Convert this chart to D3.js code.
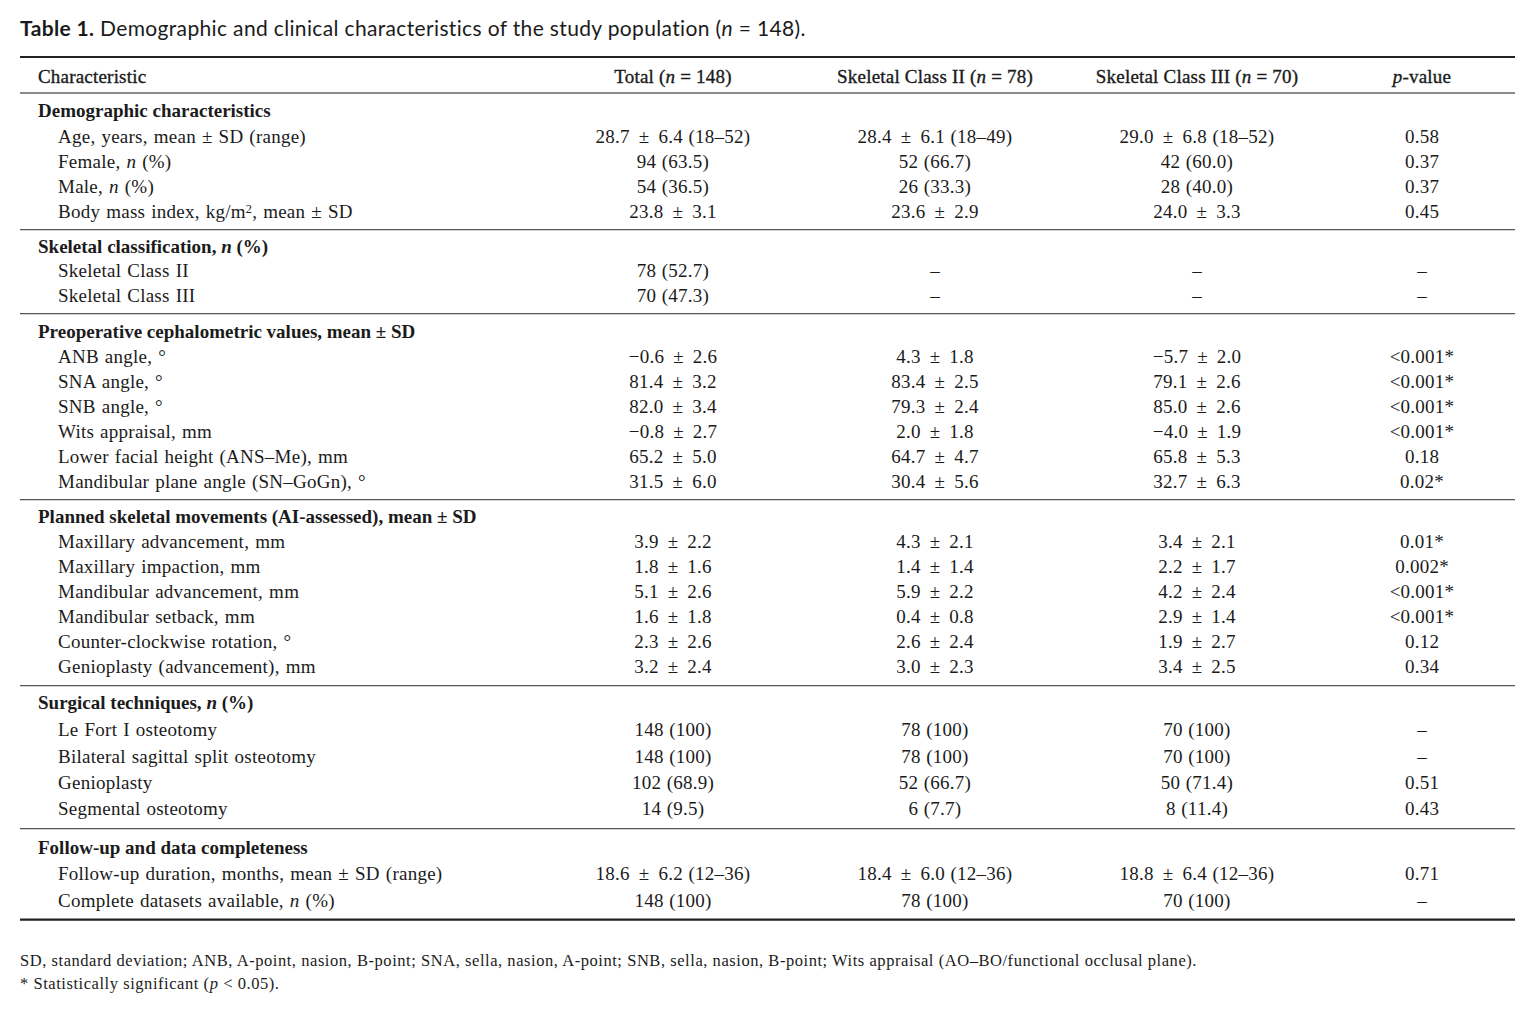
<!DOCTYPE html>
<html>
<head>
<meta charset="utf-8">
<script src="https://cdn.jsdelivr.net/npm/d3@7.9.0/dist/d3.min.js"></script>
<style>
  body { margin: 0; background: #fff; }
  svg { display: block; }
</style>
</head>
<body>
<div id="chart"></div>
<script>
// column headers (first is the label column)
const columns = ['Total (<i>n</i> = 148)', 'Skeletal Class II (<i>n</i> = 78)', 'Skeletal Class III (<i>n</i> = 70)', '<i>p</i>-value'];

const sections = [
  'Demographic characteristics',
  'Skeletal classification, <i>n</i> (%)',
  'Preoperative cephalometric values, mean ± SD',
  'Planned skeletal movements (AI-assessed), mean ± SD',
  'Surgical techniques, <i>n</i> (%)',
  'Follow-up and data completeness',
];

const rowLabels = [
  ['Age, years, mean ± SD (range)', 'Female, <i>n</i> (%)', 'Male, <i>n</i> (%)', 'Body mass index, kg/m<sup>2</sup>, mean ± SD'],
  ['Skeletal Class II', 'Skeletal Class III'],
  ['ANB angle, °', 'SNA angle, °', 'SNB angle, °', 'Wits appraisal, mm', 'Lower facial height (ANS–Me), mm', 'Mandibular plane angle (SN–GoGn), °'],
  ['Maxillary advancement, mm', 'Maxillary impaction, mm', 'Mandibular advancement, mm', 'Mandibular setback, mm', 'Counter-clockwise rotation, °', 'Genioplasty (advancement), mm'],
  ['Le Fort I osteotomy', 'Bilateral sagittal split osteotomy', 'Genioplasty', 'Segmental osteotomy'],
  ['Follow-up duration, months, mean ± SD (range)', 'Complete datasets available, <i>n</i> (%)'],
];

const totalVals = [
  ['28.7 ± 6.4 (18–52)', '94 (63.5)', '54 (36.5)', '23.8 ± 3.1'],
  ['78 (52.7)', '70 (47.3)'],
  ['−0.6 ± 2.6', '81.4 ± 3.2', '82.0 ± 3.4', '−0.8 ± 2.7', '65.2 ± 5.0', '31.5 ± 6.0'],
  ['3.9 ± 2.2', '1.8 ± 1.6', '5.1 ± 2.6', '1.6 ± 1.8', '2.3 ± 2.6', '3.2 ± 2.4'],
  ['148 (100)', '148 (100)', '102 (68.9)', '14 (9.5)'],
  ['18.6 ± 6.2 (12–36)', '148 (100)'],
];

const class2Vals = [
  ['28.4 ± 6.1 (18–49)', '52 (66.7)', '26 (33.3)', '23.6 ± 2.9'],
  ['–', '–'],
  ['4.3 ± 1.8', '83.4 ± 2.5', '79.3 ± 2.4', '2.0 ± 1.8', '64.7 ± 4.7', '30.4 ± 5.6'],
  ['4.3 ± 2.1', '1.4 ± 1.4', '5.9 ± 2.2', '0.4 ± 0.8', '2.6 ± 2.4', '3.0 ± 2.3'],
  ['78 (100)', '78 (100)', '52 (66.7)', '6 (7.7)'],
  ['18.4 ± 6.0 (12–36)', '78 (100)'],
];

const class3Vals = [
  ['29.0 ± 6.8 (18–52)', '42 (60.0)', '28 (40.0)', '24.0 ± 3.3'],
  ['–', '–'],
  ['−5.7 ± 2.0', '79.1 ± 2.6', '85.0 ± 2.6', '−4.0 ± 1.9', '65.8 ± 5.3', '32.7 ± 6.3'],
  ['3.4 ± 2.1', '2.2 ± 1.7', '4.2 ± 2.4', '2.9 ± 1.4', '1.9 ± 2.7', '3.4 ± 2.5'],
  ['70 (100)', '70 (100)', '50 (71.4)', '8 (11.4)'],
  ['18.8 ± 6.4 (12–36)', '70 (100)'],
];

const pVals = [
  ['0.58', '0.37', '0.37', '0.45'],
  ['–', '–'],
  ['<0.001*', '<0.001*', '<0.001*', '<0.001*', '0.18', '0.02*'],
  ['0.01*', '0.002*', '<0.001*', '<0.001*', '0.12', '0.34'],
  ['–', '–', '0.51', '0.43'],
  ['0.71', '–'],
];

const footnotes = [
  'SD, standard deviation; ANB, A-point, nasion, B-point; SNA, sella, nasion, A-point; SNB, sella, nasion, B-point; Wits appraisal (AO–BO/functional occlusal plane).',
  '* Statistically significant (<i>p</i> < 0.05).',
];

// ---- layout ----
const width = 1536, height = 1024;
const left = 20, right = 1515;
const serif = '"Liberation Serif", "DejaVu Serif", serif';
const ink = '#1b1b1b';

const valueCols = [totalVals, class2Vals, class3Vals, pVals];
const xCol = d3.scaleOrdinal().domain(d3.range(4)).range([673, 935, 1197, 1422]);
// vertical rhythm per section: gap above heading, heading->first row, row step, last row->rule
const secGap = [17, 17, 18, 17, 17, 19];
const firstGap = [26, 24, 25, 25, 27, 26];
const rowStep = [25, 25, 25, 25, 26.3, 27];
const ruleGap = [18.7, 18, 18, 19, 20, 19];

// flatten into rows with computed y positions
let y = 93;
const rules = [];
const lines = [];
sections.forEach((sec, si) => {
  y += secGap[si];
  lines.push({ kind: 'section', label: sec, y });
  y += firstGap[si];
  rowLabels[si].forEach((lab, ri) => {
    lines.push({ kind: 'row', label: lab, y, values: valueCols.map(c => c[si][ri]) });
    if (ri < rowLabels[si].length - 1) y += rowStep[si];
  });
  y += ruleGap[si];
  rules.push(y);
});

const svg = d3.select('#chart').append('svg')
  .attr('width', width).attr('height', height)
  .attr('viewBox', `0 0 ${width} ${height}`);

// put markup like <i>n</i> and <sup>2</sup> into tspans
function rich(sel, str) {
  const parts = str.split(/(<i>.*?<\/i>|<sup>.*?<\/sup>)/).filter(s => s.length);
  parts.forEach(p => {
    if (p.startsWith('<i>')) {
      sel.append('tspan').attr('font-style', 'italic').text(p.slice(3, -4));
    } else if (p.startsWith('<sup>')) {
      sel.append('tspan').attr('font-size', '0.65em').attr('baseline-shift', '45%').text(p.slice(5, -6));
    } else {
      sel.append('tspan').text(p);
    }
  });
  return sel;
}

// value cells: a little extra air around the ± sign, as in the typeset table
function valueText(sel, str) {
  const parts = str.split(' ± ');
  sel.append('tspan').text(parts[0]);
  if (parts.length > 1) {
    sel.append('tspan').attr('dx', 3.5).text(' ±');
    sel.append('tspan').attr('dx', 3.5).text(' ' + parts[1]);
  }
}

// title
const title = svg.append('text')
  .attr('x', left).attr('y', 29).attr('dy', '0.35em')
  .attr('font-family', 'Lato, "Open Sans", sans-serif')
  .attr('font-size', 21).attr('letter-spacing', 0.35).attr('fill', ink);
title.append('tspan').attr('font-weight', 'bold').text('Table 1.');
rich(title, ' Demographic and clinical characteristics of the study population (<i>n</i> = 148).');

// horizontal rules
svg.append('line').attr('x1', left).attr('x2', right).attr('y1', 57).attr('y2', 57)
  .attr('stroke', '#222').attr('stroke-width', 2.2);
svg.append('line').attr('x1', left).attr('x2', right).attr('y1', 93).attr('y2', 93)
  .attr('stroke', '#666').attr('stroke-width', 1.6);
svg.selectAll('line.sep')
  .data(rules)
  .join('line')
  .attr('class', 'sep')
  .attr('x1', left).attr('x2', right)
  .attr('y1', d => d).attr('y2', d => d)
  .attr('stroke', (d, i) => i === rules.length - 1 ? '#222' : '#555')
  .attr('stroke-width', (d, i) => i === rules.length - 1 ? 2.2 : 1.3);

// header
const head = svg.append('g').attr('font-family', serif).attr('font-size', 19)
  .attr('letter-spacing', 0.2)
  .attr('fill', ink).attr('stroke', ink).attr('stroke-width', 0.35);
rich(head.append('text').attr('x', 38).attr('y', 76).attr('dy', '0.35em'), 'Characteristic');
columns.forEach((c, i) => {
  rich(head.append('text').attr('x', xCol(i)).attr('y', 76).attr('dy', '0.35em')
    .attr('text-anchor', 'middle'), c);
});

// body
const body = svg.append('g').attr('font-family', serif).attr('font-size', 19).attr('fill', ink);

body.selectAll('text.label')
  .data(lines)
  .join('text')
  .attr('class', 'label')
  .attr('x', d => d.kind === 'section' ? 38 : 58)
  .attr('y', d => d.y).attr('dy', '0.35em')
  .attr('font-weight', d => d.kind === 'section' ? 'bold' : null)
  .attr('letter-spacing', d => d.kind === 'section' ? 0 : 0.25)
  .attr('word-spacing', d => d.kind === 'section' ? 0 : 1)
  .each(function (d) { rich(d3.select(this), d.label); });

const dataRows = lines.filter(d => d.kind === 'row');
body.selectAll('g.vals')
  .data(dataRows)
  .join('g')
  .attr('class', 'vals')
  .attr('letter-spacing', 0.25)
  .attr('word-spacing', 0.5)
  .selectAll('text')
  .data(d => d.values.map((v, i) => ({ v, i, y: d.y })))
  .join('text')
  .attr('x', d => xCol(d.i))
  .attr('y', d => d.y).attr('dy', '0.35em')
  .attr('text-anchor', 'middle')
  .each(function (d) { valueText(d3.select(this), d.v); });

// footnotes
svg.append('g').attr('font-family', serif).attr('font-size', 16.5).attr('fill', ink)
  .attr('letter-spacing', 0.55)
  .selectAll('text')
  .data(footnotes)
  .join('text')
  .attr('x', left)
  .attr('y', (d, i) => 960 + i * 23).attr('dy', '0.35em')
  .each(function (d) { rich(d3.select(this), d); });
</script>
</body>
</html>
